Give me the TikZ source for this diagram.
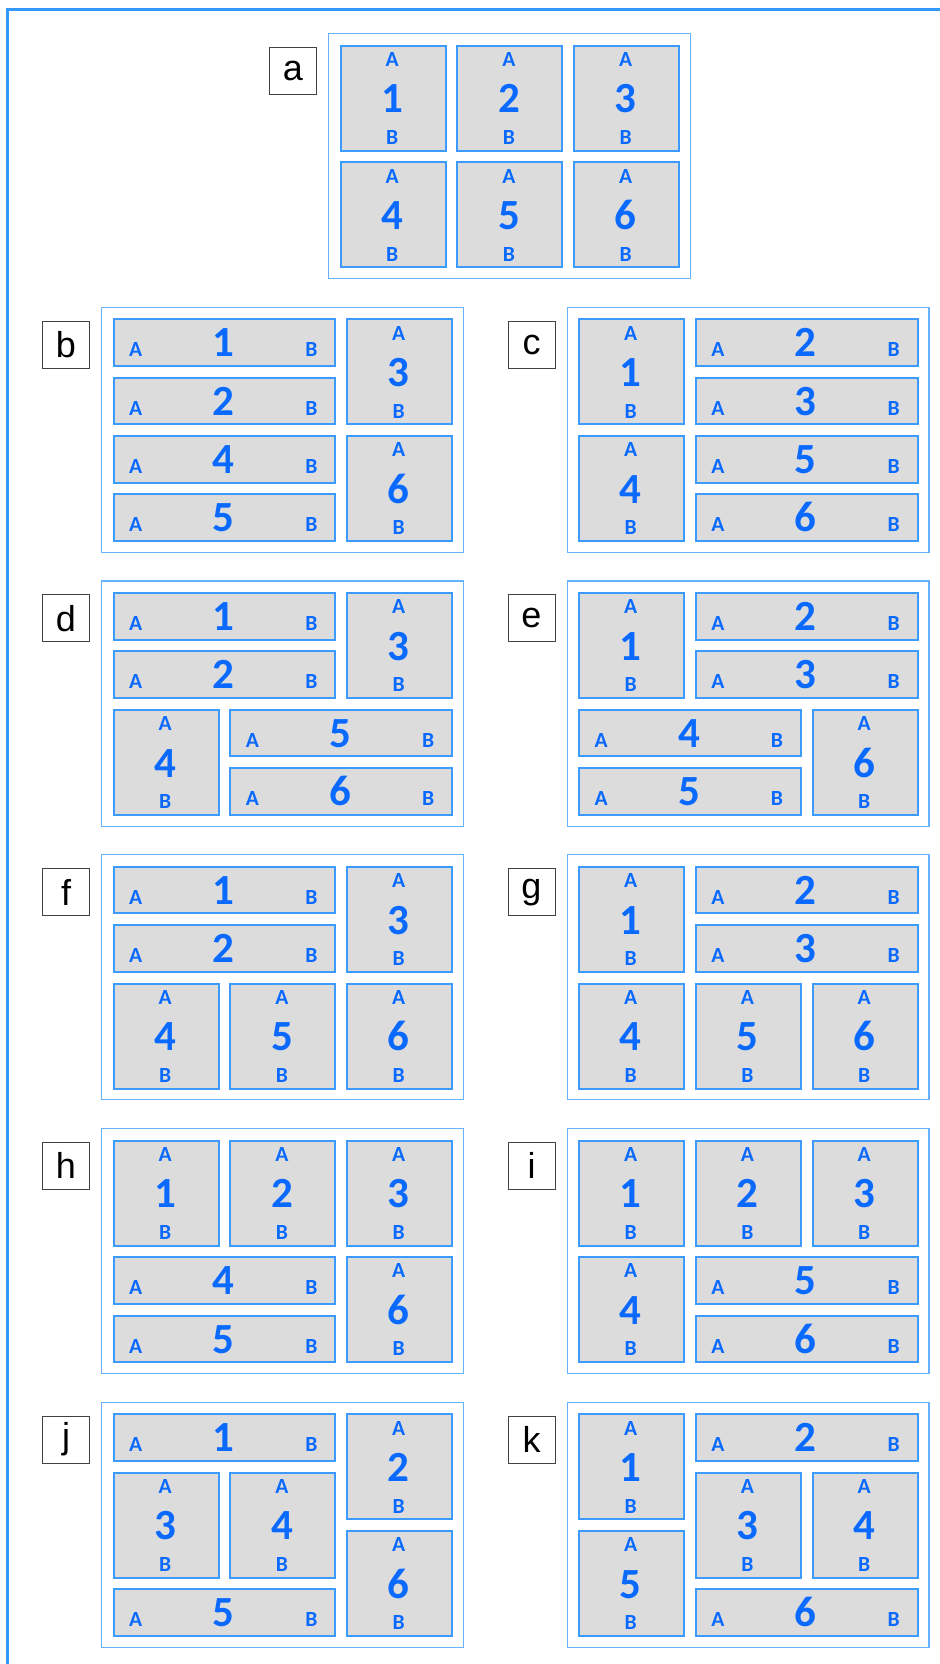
\documentclass[tikz,border=0pt]{standalone}
\usepackage{fontspec}
\setmainfont{Carlito}
\newfontfamily\tagfont{Liberation Sans}
\usepackage{tikz}
\usetikzlibrary{positioning}
\definecolor{outerc}{HTML}{3399FF}
\definecolor{framec}{HTML}{66B2FF}
\definecolor{cellc}{HTML}{3D9BFF}
\definecolor{cellbg}{HTML}{DCDCDC}
\definecolor{inkc}{HTML}{0A6AFF}
% grid positions inside one panel (px from its top-left corner)
\newcommand{\gxa}{11.7}\newcommand{\gxb}{128.4}\newcommand{\gxc}{245.1}
\newcommand{\gya}{11.7}\newcommand{\gyb}{70.05}\newcommand{\gyc}{128.4}\newcommand{\gyd}{186.75}
\tikzset{
  outer/.style={draw=outerc,line width=1.5pt},
  panel/.style={draw=framec,line width=0.6pt,anchor=north west,inner sep=0pt,
    minimum width=180.9pt,minimum height=122.55pt},
  tag/.style={draw=black!75,line width=0.5pt,anchor=north east,inner sep=0pt,
    minimum size=23.5pt,font=\tagfont\fontsize{18pt}{20pt}\selectfont},
  sqbox/.style={draw=cellc,line width=1pt,fill=cellbg,anchor=north west,inner sep=0pt,
    minimum width=52.5pt,minimum height=52.5pt},
  wdbox/.style={sqbox,minimum width=110.85pt,minimum height=23.325pt},
  num/.style={anchor=base,inner sep=0pt,text=inkc,font=\fontsize{21.5pt}{24pt}\selectfont\bfseries},
  ab/.style={num,font=\fontsize{10.8pt}{12pt}\selectfont\bfseries},
}
% square cell: name, x, y, number
\newcommand{\sqcell}[4]{%
  \node[sqbox] (#1) at (#2,#3) {};
  \node[ab]  (#1a) at (#2+52.5,#3+21.7) {A};
  \node[num] (#1n) at (#2+52.5,#3+68.3) {#4};
  \node[ab]  (#1b) at (#2+52.5,#3+99.7) {B};
}
% wide cell: name, x, y, number
\newcommand{\wdcell}[4]{%
  \node[wdbox] (#1) at (#2,#3) {};
  \node[ab]  (#1a) at (#2+23,#3+38.5) {A};
  \node[num] (#1n) at (#2+110.85,#3+38.5) {#4};
  \node[ab]  (#1b) at (#2+198.7,#3+38.5) {B};
}
% panel frame and its letter
\newcommand{\pframe}[1]{%
  \node[panel] (fr#1) at (0,0) {};
  \node[tag] (tag#1) at (-11,14) {#1};
}
\begin{document}
\begin{tikzpicture}[x=0.5pt,y=-0.5pt]
  \useasboundingbox (0,0) rectangle (940,1664);
  \draw[outer] (945,9.5) -- (7.5,9.5) -- (7.5,1670);
  % a
  \begin{scope}[shift={(328,33)}]
  \pframe{a}
  \sqcell{a1}{\gxa}{\gya}{1} \sqcell{a2}{\gxb}{\gya}{2} \sqcell{a3}{\gxc}{\gya}{3}
  \sqcell{a4}{\gxa}{\gyc}{4} \sqcell{a5}{\gxb}{\gyc}{5} \sqcell{a6}{\gxc}{\gyc}{6}
  \end{scope}
  % b
  \begin{scope}[shift={(101,306.6)}]
  \pframe{b}
  \wdcell{b1}{\gxa}{\gya}{1} \wdcell{b2}{\gxa}{\gyb}{2}
  \wdcell{b4}{\gxa}{\gyc}{4} \wdcell{b5}{\gxa}{\gyd}{5}
  \sqcell{b3}{\gxc}{\gya}{3} \sqcell{b6}{\gxc}{\gyc}{6}
  \end{scope}
  % c
  \begin{scope}[shift={(566.5,306.6)}]
  \pframe{c}
  \sqcell{c1}{\gxa}{\gya}{1} \sqcell{c4}{\gxa}{\gyc}{4}
  \wdcell{c2}{\gxb}{\gya}{2} \wdcell{c3}{\gxb}{\gyb}{3}
  \wdcell{c5}{\gxb}{\gyc}{5} \wdcell{c6}{\gxb}{\gyd}{6}
  \end{scope}
  % d
  \begin{scope}[shift={(101,580.4)}]
  \pframe{d}
  \wdcell{d1}{\gxa}{\gya}{1} \wdcell{d2}{\gxa}{\gyb}{2} \sqcell{d3}{\gxc}{\gya}{3}
  \sqcell{d4}{\gxa}{\gyc}{4} \wdcell{d5}{\gxb}{\gyc}{5} \wdcell{d6}{\gxb}{\gyd}{6}
  \end{scope}
  % e
  \begin{scope}[shift={(566.5,580.4)}]
  \pframe{e}
  \sqcell{e1}{\gxa}{\gya}{1} \wdcell{e2}{\gxb}{\gya}{2} \wdcell{e3}{\gxb}{\gyb}{3}
  \wdcell{e4}{\gxa}{\gyc}{4} \wdcell{e5}{\gxa}{\gyd}{5} \sqcell{e6}{\gxc}{\gyc}{6}
  \end{scope}
  % f
  \begin{scope}[shift={(101,854.1)}]
  \pframe{f}
  \wdcell{f1}{\gxa}{\gya}{1} \wdcell{f2}{\gxa}{\gyb}{2} \sqcell{f3}{\gxc}{\gya}{3}
  \sqcell{f4}{\gxa}{\gyc}{4} \sqcell{f5}{\gxb}{\gyc}{5} \sqcell{f6}{\gxc}{\gyc}{6}
  \end{scope}
  % g
  \begin{scope}[shift={(566.5,854.1)}]
  \pframe{g}
  \sqcell{g1}{\gxa}{\gya}{1} \wdcell{g2}{\gxb}{\gya}{2} \wdcell{g3}{\gxb}{\gyb}{3}
  \sqcell{g4}{\gxa}{\gyc}{4} \sqcell{g5}{\gxb}{\gyc}{5} \sqcell{g6}{\gxc}{\gyc}{6}
  \end{scope}
  % h
  \begin{scope}[shift={(101,1127.8)}]
  \pframe{h}
  \sqcell{h1}{\gxa}{\gya}{1} \sqcell{h2}{\gxb}{\gya}{2} \sqcell{h3}{\gxc}{\gya}{3}
  \wdcell{h4}{\gxa}{\gyc}{4} \wdcell{h5}{\gxa}{\gyd}{5} \sqcell{h6}{\gxc}{\gyc}{6}
  \end{scope}
  % i
  \begin{scope}[shift={(566.5,1127.8)}]
  \pframe{i}
  \sqcell{i1}{\gxa}{\gya}{1} \sqcell{i2}{\gxb}{\gya}{2} \sqcell{i3}{\gxc}{\gya}{3}
  \sqcell{i4}{\gxa}{\gyc}{4} \wdcell{i5}{\gxb}{\gyc}{5} \wdcell{i6}{\gxb}{\gyd}{6}
  \end{scope}
  % j
  \begin{scope}[shift={(101,1401.6)}]
  \pframe{j}
  \wdcell{j1}{\gxa}{\gya}{1} \sqcell{j2}{\gxc}{\gya}{2}
  \sqcell{j3}{\gxa}{\gyb}{3} \sqcell{j4}{\gxb}{\gyb}{4}
  \wdcell{j5}{\gxa}{\gyd}{5} \sqcell{j6}{\gxc}{\gyc}{6}
  \end{scope}
  % k
  \begin{scope}[shift={(566.5,1401.6)}]
  \pframe{k}
  \sqcell{k1}{\gxa}{\gya}{1} \wdcell{k2}{\gxb}{\gya}{2}
  \sqcell{k3}{\gxb}{\gyb}{3} \sqcell{k4}{\gxc}{\gyb}{4}
  \sqcell{k5}{\gxa}{\gyc}{5} \wdcell{k6}{\gxb}{\gyd}{6}
  \end{scope}
\end{tikzpicture}
\end{document}
